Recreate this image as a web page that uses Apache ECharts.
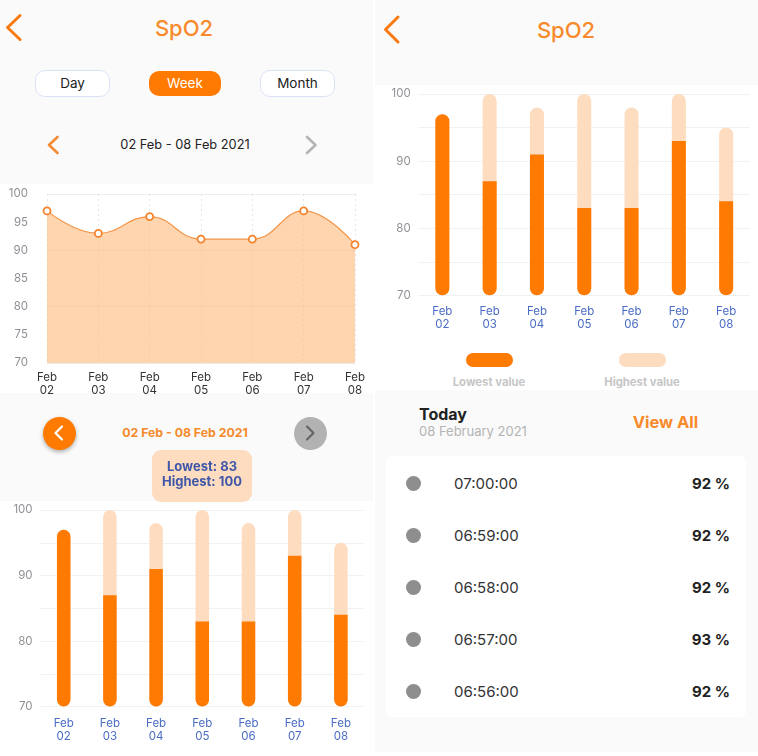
<!DOCTYPE html>
<html>
<head>
<meta charset="utf-8">
<title>SpO2</title>
<script src="https://cdn.jsdelivr.net/npm/echarts@6/dist/echarts.min.js"></script>
<style>
  html, body { margin: 0; padding: 0; width: 758px; height: 756px; overflow: hidden; background: #fff; font-family: Inter, "Noto Sans", sans-serif; }
  .abs { position: absolute; }
  .panel { position: absolute; background: #fafafa; }
  .txt { position: absolute; white-space: nowrap; line-height: 1; transform: translate(-50%, -50%); }
  .pill { position: absolute; box-sizing: border-box; display: flex; align-items: center; justify-content: center; padding-bottom: 2px; font-size: 13.5px; color: #222; background: #fff; border: 1.5px solid #dbe2f7; border-radius: 10px; }
  .pill.on { background: #ff7a00; border: none; color: #fff; }
  .round { position: absolute; border-radius: 50%; }
  #chart { position: absolute; left: 0; top: 0; width: 758px; height: 756px; }
  svg.abs { overflow: visible; }
</style>
</head>
<body>
<div class="panel" style="left:0;top:0;width:373px;height:184px"></div>
<div class="panel" style="left:0;top:393px;width:373px;height:108px"></div>
<div class="panel" style="left:375px;top:0;width:383px;height:85px"></div>
<div class="panel" style="left:375px;top:390px;width:383px;height:362px"></div>

<svg class="abs" style="left:0;top:0" width="758" height="460" fill="none" stroke-linecap="round" stroke-linejoin="round">
  <polyline points="20,15.5 7.5,27.5 20,39.5" stroke="#f97a12" stroke-width="3"/>
  <polyline points="398,17 385.500,29.500 398,42" stroke="#f97a12" stroke-width="3"/>
  <polyline points="57.500,137 49,145 57.500,153" stroke="#f58a35" stroke-width="2.600"/>
  <polyline points="307,137 315.500,145 307,153" stroke="#b4b4b4" stroke-width="2.600"/>
</svg>

<div class="txt" style="left:184px;top:28px;font-size:22px;font-weight:500;color:#f98a2c">SpO2</div>
<div class="txt" style="left:566px;top:30px;font-size:22px;font-weight:500;color:#f98a2c">SpO2</div>

<div class="pill" style="left:35px;top:70px;width:75px;height:27px">Day</div>
<div class="pill on" style="left:149px;top:71px;width:72px;height:25px">Week</div>
<div class="pill" style="left:260px;top:70px;width:75px;height:27px">Month</div>

<div class="txt" style="left:185px;top:144.500px;font-size:12.800px;color:#222">02 Feb - 08 Feb 2021</div>

<div class="round" style="left:43px;top:417px;width:33px;height:33px;background:#ff7a00;box-shadow:0 2px 4px rgba(0,0,0,.3)"></div>
<div class="round" style="left:294px;top:417px;width:33px;height:33px;background:#b2b2b2"></div>
<svg class="abs" style="left:0;top:400px" width="373" height="70" fill="none" stroke-linecap="round" stroke-linejoin="round">
  <polyline points="62,26.500 55.500,33 62,39.500" stroke="#fff" stroke-width="2.200"/>
  <polyline points="307,26.500 313.500,33 307,39.500" stroke="#666" stroke-width="2.200"/>
</svg>
<div class="txt" style="left:185px;top:433px;font-size:12.300px;font-weight:700;color:#f58a2c">02 Feb - 08 Feb 2021</div>

<div class="abs" style="left:465.500px;top:353px;width:47px;height:14px;border-radius:7px;background:#ff7a00"></div>
<div class="abs" style="left:619px;top:353px;width:47px;height:14px;border-radius:7px;background:#fddcc0"></div>
<div class="txt" style="left:489px;top:383px;font-size:11.300px;font-weight:700;color:#c6c6c6">Lowest value</div>
<div class="txt" style="left:642px;top:383px;font-size:11.300px;font-weight:700;color:#c6c6c6">Highest value</div>

<div class="abs" style="left:419px;top:406px;font-size:16px;font-weight:700;color:#222;line-height:1">Today</div>
<div class="abs" style="left:419px;top:424.500px;font-size:13px;color:#b4b4b4;line-height:1">08 February 2021</div>
<div class="txt" style="left:665.500px;top:422px;font-size:16.500px;font-weight:700;color:#f98a2c">View All</div>

<div class="abs" style="left:386px;top:456px;width:360px;height:261px;background:#fff;border-radius:6px"></div>
<div id="rows"></div>

<div id="chart"></div>

<script>
// week data
const days = ['Feb\n02', 'Feb\n03', 'Feb\n04', 'Feb\n05', 'Feb\n06', 'Feb\n07', 'Feb\n08'];
const avgValues = [97, 93, 96, 92, 92, 97, 91];
const lowValues = [97, 87, 91, 83, 83, 93, 84];
const highValues = [97, 100, 98, 100, 98, 100, 95];
const selectedDay = 3;

// today list
const rowTimes = ['07:00:00', '06:59:00', '06:58:00', '06:57:00', '06:56:00'];
const rowValues = [92, 92, 92, 93, 92];

const ORANGE = '#ff7a00';
const PEACH = '#fddcc0';
const FONT = 'Inter';

document.getElementById('rows').innerHTML = rowTimes.map((t, i) => {
    const y = 483 + i * 52;
    return `<div class="round" style="left:405.500px;top:${y - 7.5}px;width:15px;height:15px;background:#8e8e8e"></div>
      <div class="abs" style="left:454px;top:${y - 7.5}px;font-size:15px;line-height:15px;color:#333">${t}</div>
      <div class="abs" style="right:28px;top:${y - 7.5}px;font-size:15px;line-height:15px;font-weight:700;color:#222">${rowValues[i]} %</div>`;
}).join('');

function catAxis(gridIndex, color, margin, opts) {
    return Object.assign({
        type: 'category', gridIndex, data: days,
        axisLine: { show: false }, axisTick: { show: false },
        axisLabel: { color, fontSize: 11.5, fontFamily: FONT, lineHeight: 13, margin, interval: 0 }
    }, opts);
}

function valAxis(gridIndex, interval, margin, showLabel, gridColor) {
    return {
        type: 'value', gridIndex, position: 'left', min: 70, max: 100, interval,
        axisLine: { show: false }, axisTick: { show: false },
        axisLabel: { show: showLabel, color: '#8f9196', fontSize: 11.5, fontFamily: FONT, margin, padding: [2, 0, 0, 0] },
        splitLine: { show: !!gridColor, lineStyle: { color: gridColor || '#eee', width: 1 } }
    };
}

// low bars keep a flat top unless they reach the high value
function lowData() {
    return lowValues.map((v, i) => ({
        value: v,
        itemStyle: { borderRadius: v >= highValues[i] ? 7 : [0, 0, 7, 7] }
    }));
}

const chart = echarts.init(document.getElementById('chart'));
chart.setOption({
    animation: false,
    backgroundColor: 'transparent',
    grid: [
        { left: 47, width: 308, top: 194, height: 169, outerBoundsMode: 'none' },
        { left: 40.6, width: 323.4, top: 510, height: 196.6, outerBoundsMode: 'none' },
        { left: 418.7, width: 331.1, top: 94, height: 201.3, outerBoundsMode: 'none' }
    ],
    tooltip: {
        trigger: 'item', alwaysShowContent: true, showContent: true,
        backgroundColor: PEACH, borderWidth: 0, padding: 0, extraCssText: 'box-shadow:none;border-radius:9px;',
        position: [152, 450],
        formatter: p => `<div style="box-sizing:border-box;width:100px;height:52px;padding-top:9px;text-align:center;font:700 13px/15px Inter;color:#3f57a8">Lowest: ${lowValues[p.dataIndex]}<br>Highest: ${highValues[p.dataIndex]}</div>`
    },
    xAxis: [
        catAxis(0, '#333', 8, { boundaryGap: false, splitLine: { show: true, lineStyle: { color: '#e3e6ea', type: [2, 3], width: 1 } } }),
        catAxis(1, '#4a6cc4', 10),
        catAxis(2, '#4a6cc4', 10)
    ],
    yAxis: [
        valAxis(0, 5, 19, true, null),
        valAxis(1, 5, 8, false, '#f1f1f1'),
        valAxis(2, 5, 8, false, '#f1f1f1'),
        valAxis(0, 10, 19, false, '#ececec'),
        valAxis(1, 10, 8, true, null),
        valAxis(2, 10, 8, true, null)
    ],
    series: [
        { type: 'line', xAxisIndex: 0, yAxisIndex: 0, data: avgValues, smooth: 0.45,
          symbol: 'circle', symbolSize: 7, showAllSymbol: true,
          lineStyle: { color: '#f2954a', width: 1.2 },
          itemStyle: { color: '#fff', borderColor: '#f5822a', borderWidth: 1.8 },
          areaStyle: { color: '#fdbd80', opacity: 0.64 } },
        { type: 'bar', xAxisIndex: 1, yAxisIndex: 1, data: highValues, barWidth: 13.5, barGap: '-100%',
          itemStyle: { color: PEACH, borderRadius: 7 } },
        { type: 'bar', xAxisIndex: 1, yAxisIndex: 1, data: lowData(), barWidth: 13.5, barGap: '-100%',
          itemStyle: { color: ORANGE }, tooltip: { show: false } },
        { type: 'bar', xAxisIndex: 2, yAxisIndex: 2, data: highValues, barWidth: 14, barGap: '-100%',
          itemStyle: { color: PEACH, borderRadius: 7 }, tooltip: { show: false } },
        { type: 'bar', xAxisIndex: 2, yAxisIndex: 2, data: lowData(), barWidth: 14, barGap: '-100%',
          itemStyle: { color: ORANGE }, tooltip: { show: false } }
    ]
});

// same selected bar as the screenshot
chart.dispatchAction({ type: 'showTip', seriesIndex: 1, dataIndex: selectedDay });
</script>
</body>
</html>
